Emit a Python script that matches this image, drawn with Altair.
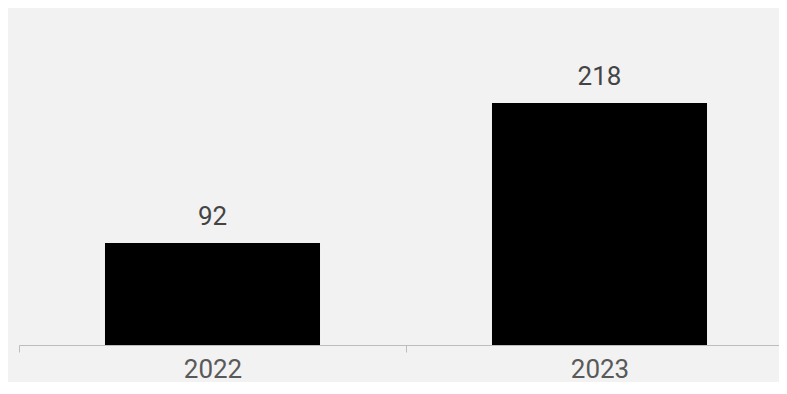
import altair as alt
import pandas as pd

years = ["2022", "2023"]
values = [92, 218]

df = pd.DataFrame({"year": years, "value": values})

base = alt.Chart(df).encode(
    x=alt.X(
        "year:N",
        sort=years,
        title=None,
        scale=alt.Scale(paddingInner=0, paddingOuter=0),
        axis=alt.Axis(
            labelAngle=0,
            labelFont="Roboto",
            labelFontSize=26,
            labelColor="#595959",
            labelPadding=4,
            tickSize=7,
            tickColor="#bdbdbd",
            domainColor="#bdbdbd",
            tickBand="extent",
            grid=False,
        ),
    ),
    y=alt.Y("value:Q", scale=alt.Scale(domain=[0, 300], nice=False), axis=None),
)

bars = base.mark_bar(color="#000000", width=alt.RelativeBandSize(0.5556))
labels = base.mark_text(
    baseline="alphabetic",
    dy=-18,
    font="Roboto",
    fontSize=26,
    color="#444444",
).encode(text="value:Q")

chart = (
    alt.layer(bars, labels)
    .properties(
        width=774,
        height=333,
        background="#f2f2f2",
        autosize=alt.AutoSizeParams(type="none"),
        padding={"left": 11, "top": 4, "right": -14, "bottom": 37},
    )
    .configure_view(stroke=None)
)

chart.save("out.html", embed_options={"renderer": "svg", "actions": False})
